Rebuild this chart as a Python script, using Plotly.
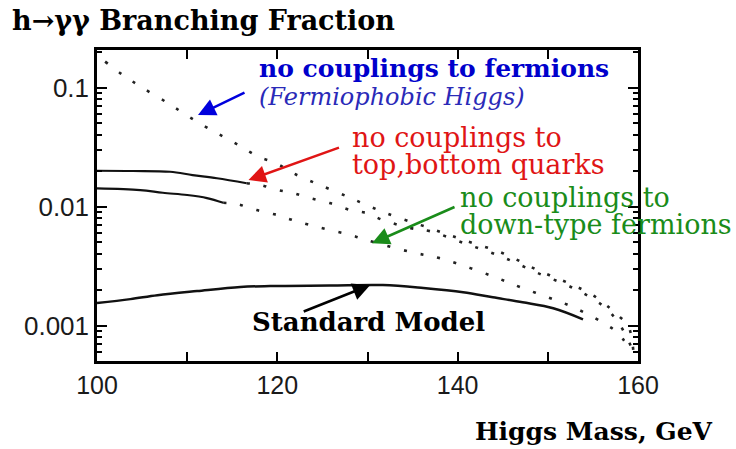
import math
import plotly.graph_objects as go

# ---------------- data ----------------
fp_mass = [100.9, 102.9, 105.0, 107.9, 109.9, 112.0, 114.0, 116.0, 117.9, 119.9, 121.8,
           124.7, 127.8, 129.9, 132.1, 136.9, 141.0, 145.0, 148.9, 152.8, 155.0, 156.9,
           158.0, 158.9, 159.5]
fp_br = [0.165, 0.127, 0.100, 0.0736, 0.0587, 0.0469, 0.0387, 0.0319, 0.0262, 0.0231, 0.0190,
         0.0152, 0.0121, 0.0103, 0.00877, 0.00659, 0.00513, 0.00406, 0.00292, 0.00219, 0.00180,
         0.00140, 0.00118, 0.00101, 0.00060]

tb_mass = [100.0, 104.0, 108.1, 110.6, 113.3, 116.6, 118.1, 120.0, 121.7, 123.6, 125.8,
           128.1, 129.9, 131.7, 134.8, 136.9, 141.0, 145.0, 148.9, 152.8, 156.0, 157.8, 159.3]
tb_br = [0.0200, 0.0199, 0.0196, 0.0184, 0.0173, 0.0157, 0.0152, 0.0138, 0.0130, 0.0118, 0.0107,
         0.00935, 0.00881, 0.00771, 0.00659, 0.00622, 0.00484, 0.00376, 0.00276, 0.00207,
         0.00149, 0.00107, 0.00065]
tb_solid_until = 116.6

dt_mass = [100.0, 104.8, 107.3, 110.0, 112.2, 114.0, 115.5, 117.7, 120.0, 121.7, 123.6, 125.8,
           128.1, 129.9, 134.8, 138.0, 141.4, 144.4, 146.9, 150.0, 152.8, 156.0, 157.8, 158.9]
dt_br = [0.0142, 0.01377, 0.01306, 0.0125, 0.01178, 0.01076, 0.0105, 0.00935, 0.00849, 0.0077,
         0.0070, 0.00635, 0.00577, 0.00523, 0.00415, 0.00369, 0.00304, 0.00251, 0.00211,
         0.00173, 0.00143, 0.00107, 0.000865, 0.000659]
dt_solid_until = 114.0

sm_mass = [100.0, 103.7, 106.7, 111.1, 115.9, 119.2, 125.8, 131.7, 136.2, 140.6, 143.9,
           147.2, 150.6, 153.9]
sm_br = [0.00155, 0.00167, 0.00180, 0.00195, 0.00211, 0.00215, 0.00217, 0.00219, 0.00207,
         0.00191, 0.00173, 0.00157, 0.00140, 0.00113]

x_ticks = [100, 110, 120, 130, 140, 150, 160]
x_ticktext = ["100", "", "120", "", "140", "", "160"]
y_ticks = [0.001, 0.01, 0.1]
y_ticktext = ["0.001", "0.01", "0.1"]
y_range_log = [-3.297, -0.685]
y_minor = [k * 10 ** e for e in range(-4, 0) for k in range(2, 10)
           if y_range_log[0] < math.log10(k * 10 ** e) < y_range_log[1]]

# arrow heads (mass, BR) for annotations
arrow_fp = (111.2, 0.0588)
arrow_tb = (116.8, 0.0167)
arrow_dt = (130.5, 0.00491)
arrow_sm = (130.3, 0.00219)

# ---------------- figure ----------------
W, H = 736, 449
ML, MR, MT, MB = 97, 98, 50, 88
PW, PH = W - ML - MR, H - MT - MB


def px(x):
    return (x - ML) / PW


def py(y):
    return (H - MB - y) / PH


def split(m, b, until):
    s = [(a, c) for a, c in zip(m, b) if a <= until]
    d = [(a, c) for a, c in zip(m, b) if a >= until]
    return [p[0] for p in s], [p[1] for p in s], [p[0] for p in d], [p[1] for p in d]


fig = go.Figure()

DOT = "3px,14px"
DOTC = "#222222"
fig.add_trace(go.Scatter(x=fp_mass, y=fp_br, mode="lines",
                         line=dict(color=DOTC, width=2.6, dash=DOT, shape="spline")))

sx, sy, dx, dy = split(tb_mass, tb_br, tb_solid_until)
fig.add_trace(go.Scatter(x=sx, y=sy, mode="lines",
                         line=dict(color="#111111", width=2.2, shape="spline")))
fig.add_trace(go.Scatter(x=dx, y=dy, mode="lines",
                         line=dict(color=DOTC, width=2.6, dash=DOT, shape="spline")))

sx, sy, dx, dy = split(dt_mass, dt_br, dt_solid_until)
fig.add_trace(go.Scatter(x=sx, y=sy, mode="lines",
                         line=dict(color="#111111", width=2.2, shape="spline")))
fig.add_trace(go.Scatter(x=dx, y=dy, mode="lines",
                         line=dict(color=DOTC, width=2.6, dash=DOT, shape="spline")))

fig.add_trace(go.Scatter(x=sm_mass, y=sm_br, mode="lines",
                         line=dict(color="#111111", width=2.5, shape="spline")))

SERIF = "DejaVu Serif"
ann = []


def text(s, x, y, size, color, bold=False, italic=False, xanchor="left"):
    t = s
    if bold:
        t = "<b>" + t + "</b>"
    if italic:
        t = "<i>" + t + "</i>"
    ann.append(dict(text=t, x=px(x), y=py(y), xref="paper", yref="paper",
                    xanchor=xanchor, yanchor="middle", showarrow=False,
                    font=dict(family=SERIF, size=size, color=color)))


def arrow(head, dxp, dyp, color):
    ann.append(dict(x=head[0], y=math.log10(head[1]), xref="x", yref="y",
                    ax=dxp, ay=dyp, axref="pixel", ayref="pixel", text="",
                    showarrow=True, arrowhead=2, arrowsize=1.4, arrowwidth=2.5,
                    arrowcolor=color, standoff=0))


text("h\u2192\u03b3\u03b3 Branching Fraction", 10, 20, 27, "#000000", bold=True)
text("no couplings to fermions", 257, 69, 25, "#0000cc", bold=True)
text("(Fermiophobic Higgs)", 257, 97, 24, "#2a2ab8", italic=True)
text("no couplings to", 350, 137, 27, "#e01515")
text("top,bottom quarks", 350, 164, 27, "#e01515")
text("no couplings to", 458, 197, 27, "#1a8c1a")
text("down-type fermions", 458, 224, 27, "#1a8c1a")
text("Standard Model", 368, 322, 26, "#000000", bold=True, xanchor="center")
text("Higgs Mass, GeV", 715, 431, 25, "#000000", bold=True, xanchor="right")

arrow(arrow_fp, 48, -23, "#0000dd")
arrow(arrow_tb, 92, -33, "#e01515")
arrow(arrow_dt, 84, -37, "#1a8c1a")
arrow(arrow_sm, -68, 27, "#000000")

fig.update_layout(
    width=W, height=H, margin=dict(l=ML, r=MR, t=MT, b=MB),
    paper_bgcolor="white", plot_bgcolor="white", showlegend=False,
    annotations=ann,
)
fig.update_xaxes(range=[100, 160], tickmode="array", tickvals=x_ticks, ticktext=x_ticktext,
                 ticks="inside", ticklen=9, tickwidth=2, tickcolor="black",
                 showline=True, linewidth=2.5, linecolor="black", mirror="ticks",
                 showgrid=False, zeroline=False,
                 tickfont=dict(family="Liberation Sans", size=25, color="#1a1a1a"))
fig.update_yaxes(type="log", range=y_range_log, tickmode="array", tickvals=y_ticks,
                 ticktext=y_ticktext,
                 ticks="inside", ticklen=10, tickwidth=2, tickcolor="black",
                 minor=dict(tickmode="array", tickvals=y_minor, ticks="inside", ticklen=5,
                            tickwidth=1.5, tickcolor="black", showgrid=False),
                 showline=True, linewidth=2.5, linecolor="black", mirror="ticks",
                 showgrid=False, zeroline=False,
                 tickfont=dict(family="Liberation Sans", size=26, color="#1a1a1a"))

fig.write_html("out.html")
